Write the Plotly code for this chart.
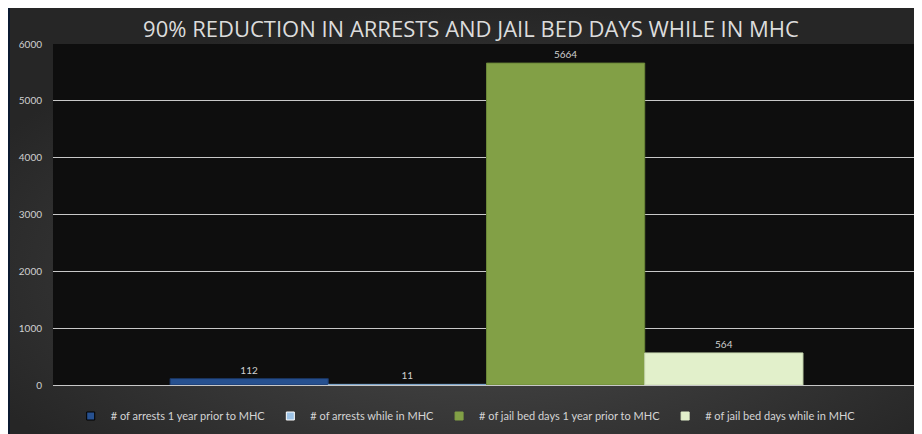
import base64
import plotly.graph_objects as go

series_names = [
    "# of arrests 1 year prior to MHC",
    "# of arrests while in MHC",
    "# of jail bed days 1 year prior to MHC",
    "# of jail bed days while in MHC",
]
series_values = [112, 11, 5664, 564]
series_colors = ["#275190", "#9dc3e6", "#82a046", "#e2f0cb"]
line_colors = ["#1a3766", "#7fa6cc", "#6a8638", "#c9d9b0"]
legend_line_colors = ["#000000", "#ffffff", "#82a046", "#e2f0cb"]
category = [""]
title_text = "90% REDUCTION IN ARRESTS AND JAIL BED DAYS WHILE IN MHC"
y_ticks = [0, 1000, 2000, 3000, 4000, 5000, 6000]

# page offset of the figure inside the browser window (body margin)
OFF = 8
W, H = 914, 426
ML, MR, MT, MB = 53 - OFF, 2, 44 - OFF, 49
pw, ph = W - ML - MR, H - MT - MB

fig = go.Figure()
for name, val, col, lc in zip(series_names, series_values, series_colors, line_colors):
    fig.add_trace(go.Bar(
        name=name, x=category, y=[val],
        marker=dict(color=col, line=dict(color=lc, width=1)),
        text=[str(val)], textposition="outside",
        textfont=dict(size=10, color="#d0d0d0", family="Lato"),
        cliponaxis=False, showlegend=False,
    ))
for name, col, lc in zip(series_names, series_colors, legend_line_colors):
    fig.add_trace(go.Scatter(
        name=name, x=[None], y=[None], mode="markers",
        marker=dict(symbol="square", size=8, color=col, line=dict(color=lc, width=1)),
        showlegend=True, hoverinfo="skip",
    ))

svg = (
    '<svg xmlns="http://www.w3.org/2000/svg" width="912" height="431" preserveAspectRatio="none">'
    '<defs><radialGradient id="g" cx="0.52" cy="0.62" r="0.62" fx="0.52" fy="0.62">'
    '<stop offset="0" stop-color="#4e4e4e"/><stop offset="1" stop-color="#262626"/>'
    '</radialGradient></defs><rect width="912" height="431" fill="url(#g)"/></svg>'
)
src = "data:image/svg+xml;base64," + base64.b64encode(svg.encode()).decode()

gx0 = (10 - OFF - ML) / pw
gy1 = (H - MB) / ph
fig.add_layout_image(dict(
    source=src, xref="paper", yref="paper", x=gx0, y=gy1,
    sizex=(W - (10 - OFF)) / pw, sizey=H / ph, sizing="stretch",
    xanchor="left", yanchor="top", layer="below",
))
fig.add_shape(type="rect", xref="paper", yref="paper", x0=0, x1=1, y0=0, y1=1,
              fillcolor="#0e0e0e", line=dict(width=0), layer="below")

fig.update_layout(
    width=W, height=H,
    margin=dict(l=ML, r=MR, t=MT, b=MB),
    paper_bgcolor="#0b1a31",
    plot_bgcolor="rgba(0,0,0,0)",
    barmode="group", bargap=0.27, bargroupgap=0,
    title=dict(text=title_text, x=(471 - OFF) / W, xanchor="center",
               y=1 - (29 - OFF) / H, yanchor="middle",
               font=dict(family="Open Sans", size=22, color="#dcdcdc")),
    font=dict(family="Lato", color="#d9d9d9"),
    showlegend=True,
    legend=dict(orientation="h", x=0.476, xanchor="center",
                y=-(416 - 385) / ph, yanchor="middle",
                font=dict(size=11, color="#d4d4d4"), bgcolor="rgba(0,0,0,0)",
                itemwidth=30, traceorder="normal"),
    yaxis=dict(range=[0, 6000], tickvals=y_ticks, ticktext=[str(t) for t in y_ticks],
               showgrid=True, gridcolor="#c8c8c8", gridwidth=1,
               zeroline=True, zerolinecolor="#c8c8c8", zerolinewidth=1,
               showline=False, ticks="", ticklabelstandoff=10,
               tickfont=dict(size=10, color="#d0d0d0", family="Lato")),
    xaxis=dict(showticklabels=False, showgrid=False, zeroline=False, showline=False, ticks=""),
)

fig.write_html("out.html")
